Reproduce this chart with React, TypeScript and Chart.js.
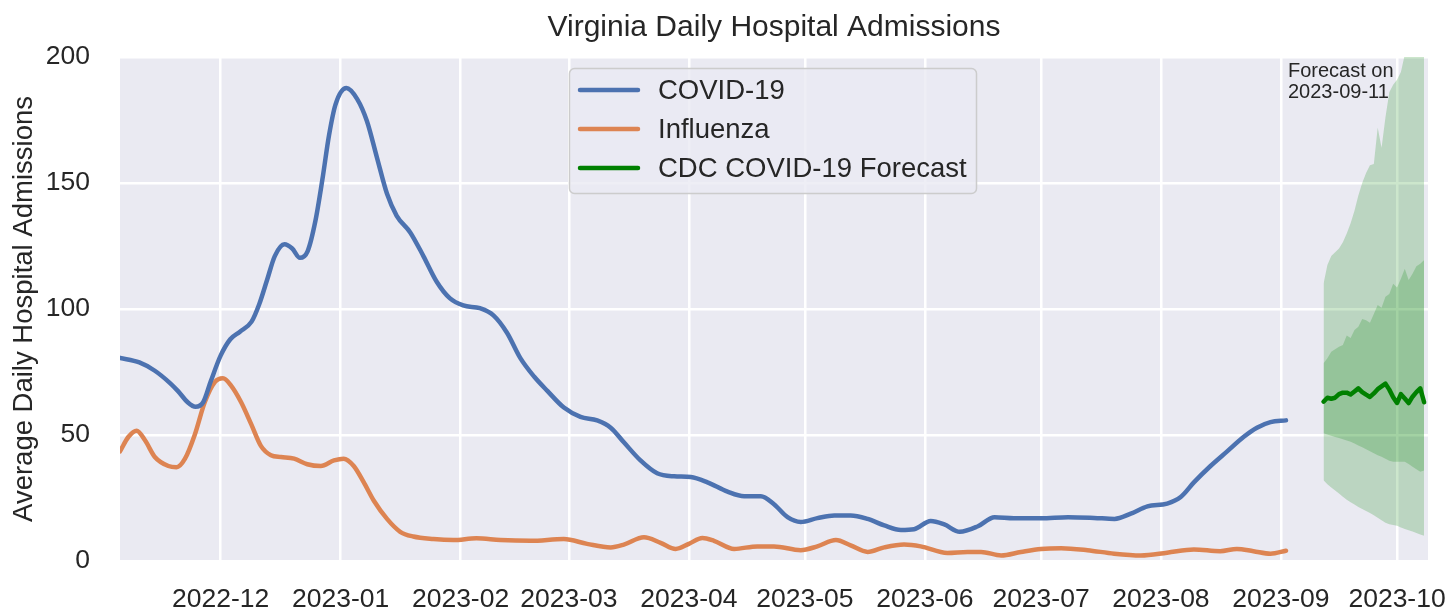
import React, { useEffect, useRef } from "react";
import { Chart, registerables } from "chart.js";

Chart.register(...registerables);

// x values are day offsets from 2022-12-01
const xMinDay = -26; // 2022-11-05
const xMaxDay = 312; // 2023-10-09
const monthTickDays = [0, 31, 62, 90, 121, 151, 182, 212, 243, 274, 304];
const monthTickLabels = [
  "2022-12", "2023-01", "2023-02", "2023-03", "2023-04", "2023-05",
  "2023-06", "2023-07", "2023-08", "2023-09", "2023-10",
];
const yTickValues = [0, 50, 100, 150, 200];

const covidDays = [
  -26, -21, -17, -13, -11, -8.5, -6.5, -4.5, -2.5, 0, 2.5, 5, 8, 10, 12, 14, 16.5, 18.5, 20.5, 22.5,
  24.5, 26.3, 28, 29.7, 32.5, 35.3, 37.8, 40.4, 43, 45.5, 49, 52.4, 55.8, 59.2, 62.7, 67, 70.5, 74,
  77.5, 81, 84.5, 88.7, 93, 97.3, 100.8, 104.2, 108.5, 112.8, 117.2, 121.5, 125.8, 131, 135.3, 139.6,
  143, 146.5, 149.9, 154.2, 158.6, 162.8, 167.2, 171.5, 175.8, 179.2, 183.5, 187, 191, 195.7, 200,
  205, 212, 219, 225.7, 231, 235.2, 239.5, 244.6, 248.1, 251.5, 255.8, 260.1, 264.4, 267.8, 271.3, 275.3,
];
const covidValues = [
  80.6, 78.8, 75.5, 70.5, 67.4, 63, 61.2, 63, 71.5, 81.5, 88, 91, 95, 102, 111.5, 121, 125.7, 124, 120.3, 123,
  135, 151.4, 168.8, 181.2, 187.7, 183.3, 174.6, 160.1, 145.7, 137, 130.4, 121, 110.9, 104.3, 101.4, 100.3, 97.5, 90.6,
  80.4, 73.2, 67.4, 60.9, 57.2, 55.8, 52.9, 47.1, 39.9, 34.8, 33.6, 33.3, 31.2, 27.5, 25.7, 25.7,
  22.5, 17.4, 15.5, 17, 18.1, 18.1, 16.7, 14.1, 12.3, 12.6, 15.9, 14.5, 11.6, 13.8, 17.4,
  17, 17, 17.4, 17.1, 16.7, 18.8, 21.7, 22.8, 25.4, 31.2, 37.7, 43.5, 49.3, 52.9, 55.1, 55.8,
];

const fluDays = [
  -26, -23.8, -21.7, -19.5, -17, -13.5, -11.4, -9.2, -6.7, -4.1, -1.5, 0.6, 2.7, 5.3, 7.9, 10.4, 13, 15.6,
  19, 22.4, 25.9, 29.3, 31.8, 34.4, 37, 39.6, 43, 46.4, 49.8, 55, 60.1, 66.1, 72.3, 80.1, 88.7, 94.7,
  100.8, 104.2, 109.4, 113.7, 117.6, 121, 124.5, 127.5, 132.7, 138.7, 143, 149.9, 154.2, 159, 162.8,
  167.2, 171.5, 176.6, 180.9, 187.8, 193, 196.5, 201.7, 206.8, 212, 217.2, 224, 230.9, 237.8, 244.6,
  251.5, 258.3, 262.6, 266.9, 271.3, 275.3,
];
const fluValues = [
  43.5, 49.3, 51.7, 47.8, 41.3, 37.7, 37.2, 40.6, 50, 63, 71, 72.5, 69.6, 63, 54.3, 45.7, 42, 41.3,
  40.6, 38.4, 37.7, 39.9, 40.6, 37.7, 31.2, 23.9, 16.7, 11.6, 9.7, 8.7, 8.3, 9, 8.3, 8, 8.7, 6.8,
  5.4, 6.5, 9.4, 7.2, 4.8, 6.8, 9.1, 8, 4.8, 5.8, 5.8, 4.3, 5.8, 8.3, 6.2,
  3.6, 5.4, 6.5, 5.8, 3.2, 3.6, 3.6, 2.2, 3.6, 4.8, 5.1, 4.3, 2.9, 2.2, 3.3,
  4.6, 3.9, 4.8, 3.9, 2.9, 4.1,
];

const forecastDays = [
  285, 286, 287, 288, 289, 290, 291, 292, 293, 294, 295, 296, 297, 298,
  299, 300, 301, 302, 303, 304, 305, 306, 307, 308, 309, 310, 311,
];
const forecastMedian = [
  63.2, 64.8, 64.4, 64.8, 66.2, 66.8, 66.8, 66.1, 67.3, 68.5, 67, 66, 65.1, 66.5,
  68.2, 69.3, 70.4, 68, 65, 62.7, 66.2, 64.5, 62.7, 65.2, 67, 68.5, 63,
];
const forecastLower95 = [
  32, 30.5, 29.2, 28, 26.8, 25.5, 24.3, 23.3, 22.4, 21.4, 20.6, 19.8, 19, 18.2,
  17.2, 16.2, 15.2, 14.6, 14.3, 14, 13.3, 12.7, 12.2, 11.7, 11.1, 10.5, 10,
];
const forecastUpper95 = [
  110, 117.5, 121, 122.5, 124, 126.5, 130, 134, 139, 145, 150, 154, 157, 157.5,
  172, 164, 176, 186, 189, 191, 194, 201, 208, 214, 220, 226, 232,
];
const forecastLower50 = [
  50.7, 50.2, 49.7, 49.2, 48.8, 48.3, 47.8, 47.3, 46.6, 45.8, 45.1, 44.3, 43.6, 42.8,
  42, 41.4, 40.6, 39.8, 39.4, 39.4, 39.4, 39.4, 38.5, 37.4, 36.4, 35.4, 35.9,
];
const forecastUpper50 = [
  78.5, 80.5, 83, 84, 85, 85.7, 89.5, 88.5, 91.7, 93, 96, 95.5, 94.5, 98,
  101.6, 100.5, 104.9, 106, 110, 108.5, 112, 116, 111.5, 114, 117, 118, 119.4,
];

const titleText = "Virginia Daily Hospital Admissions";
const yAxisTitle = "Average Daily Hospital Admissions";
const legendLabels = ["COVID-19", "Influenza", "CDC COVID-19 Forecast"];
const forecastNote = ["Forecast on", "2023-09-11"];

const COLOR_COVID = "#4C72B0";
const COLOR_FLU = "#DD8452";
const COLOR_FORECAST = "#008000";
const BAND_FILL = "rgba(0,128,0,0.2)";
const TEXT_COLOR = "#262626";
const FONT = "'Liberation Sans', Arial, sans-serif";

const pts = (xs: number[], ys: number[]) => xs.map((x, i) => ({ x, y: ys[i] }));

export default function App() {
  const canvasRef = useRef<HTMLCanvasElement | null>(null);

  useEffect(() => {
    const canvas = canvasRef.current;
    if (!canvas) return;

    const decorPlugin = {
      id: "decor",
      beforeDraw(chart: any) {
        const { ctx, chartArea } = chart;
        ctx.save();
        ctx.fillStyle = "#ffffff";
        ctx.fillRect(0, 0, chart.width, chart.height);
        ctx.fillStyle = "#EAEAF2";
        ctx.fillRect(chartArea.left, chartArea.top, chartArea.right - chartArea.left, chartArea.bottom - chartArea.top);
        ctx.restore();
      },
      afterDraw(chart: any) {
        const { ctx, chartArea } = chart;
        ctx.save();
        // title
        ctx.fillStyle = TEXT_COLOR;
        ctx.font = `30px ${FONT}`;
        ctx.textAlign = "center";
        ctx.textBaseline = "middle";
        ctx.fillText(titleText, (chartArea.left + chartArea.right) / 2, 28);
        // y title
        ctx.save();
        ctx.translate(24, (chartArea.top + chartArea.bottom) / 2);
        ctx.rotate(-Math.PI / 2);
        ctx.font = `27.5px ${FONT}`;
        ctx.fillText(yAxisTitle, 0, 0);
        ctx.restore();
        // forecast note
        ctx.font = `20px ${FONT}`;
        ctx.textAlign = "left";
        ctx.fillText(forecastNote[0], 1288, 71);
        ctx.fillText(forecastNote[1], 1288, 92);
        // legend
        const bx = 569.5, by = 68.5, bw = 407, bh = 125;
        ctx.beginPath();
        if ((ctx as any).roundRect) (ctx as any).roundRect(bx, by, bw, bh, 5);
        else ctx.rect(bx, by, bw, bh);
        ctx.fillStyle = "rgba(234,234,242,0.8)";
        ctx.fill();
        ctx.strokeStyle = "#CCCCCC";
        ctx.lineWidth = 1.5;
        ctx.stroke();
        const colors = [COLOR_COVID, COLOR_FLU, COLOR_FORECAST];
        const rows = [90, 129, 168];
        ctx.font = `27.5px ${FONT}`;
        ctx.textBaseline = "middle";
        rows.forEach((ry, i) => {
          ctx.beginPath();
          ctx.moveTo(580, ry);
          ctx.lineTo(638, ry);
          ctx.strokeStyle = colors[i];
          ctx.lineWidth = 4.5;
          ctx.lineCap = "round";
          ctx.stroke();
          ctx.fillStyle = TEXT_COLOR;
          ctx.fillText(legendLabels[i], 658, ry + 1);
        });
        ctx.restore();
      },
    };

    const chart = new Chart(canvas, {
      type: "line",
      data: {
        datasets: [
          {
            label: legendLabels[0],
            data: pts(covidDays, covidValues),
            borderColor: COLOR_COVID,
            borderWidth: 4.5,
            borderCapStyle: "round",
            pointRadius: 0,
            cubicInterpolationMode: "monotone",
            fill: false,
            order: 1,
          },
          {
            label: legendLabels[1],
            data: pts(fluDays, fluValues),
            borderColor: COLOR_FLU,
            borderWidth: 4.5,
            borderCapStyle: "round",
            pointRadius: 0,
            cubicInterpolationMode: "monotone",
            fill: false,
            order: 2,
          },
          {
            label: legendLabels[2],
            data: pts(forecastDays, forecastMedian),
            borderColor: COLOR_FORECAST,
            borderWidth: 4.5,
            borderCapStyle: "round",
            borderJoinStyle: "round",
            pointRadius: 0,
            tension: 0,
            fill: false,
            order: 0,
          },
          {
            label: "lower95",
            data: pts(forecastDays, forecastLower95),
            borderWidth: 0,
            borderColor: "rgba(0,0,0,0)",
            pointRadius: 0,
            tension: 0,
            fill: false,
            order: 10,
          },
          {
            label: "upper95",
            data: pts(forecastDays, forecastUpper95),
            borderWidth: 0,
            borderColor: "rgba(0,0,0,0)",
            backgroundColor: BAND_FILL,
            pointRadius: 0,
            tension: 0,
            fill: 3,
            order: 9,
          },
          {
            label: "lower50",
            data: pts(forecastDays, forecastLower50),
            borderWidth: 0,
            borderColor: "rgba(0,0,0,0)",
            pointRadius: 0,
            tension: 0,
            fill: false,
            order: 8,
          },
          {
            label: "upper50",
            data: pts(forecastDays, forecastUpper50),
            borderWidth: 0,
            borderColor: "rgba(0,0,0,0)",
            backgroundColor: BAND_FILL,
            pointRadius: 0,
            tension: 0,
            fill: 5,
            order: 7,
          },
        ],
      },
      options: {
        animation: false,
        responsive: false,
        devicePixelRatio: 1,
        layout: { padding: { top: 57, right: 28, left: 0, bottom: 0 } },
        plugins: {
          legend: { display: false },
          title: { display: false },
          tooltip: { enabled: false },
        },
        scales: {
          x: {
            type: "linear",
            min: xMinDay,
            max: xMaxDay,
            afterBuildTicks(scale: any) {
              scale.ticks = monthTickDays.map((v) => ({ value: v }));
            },
            afterFit(scale: any) {
              scale.height = 51;
              scale.paddingLeft = 0;
              scale.paddingRight = 0;
            },
            ticks: {
              autoSkip: false,
              maxRotation: 0,
              minRotation: 0,
              padding: 23,
              color: TEXT_COLOR,
              font: { family: FONT, size: 26.5 },
              callback: (value: any) => {
                const i = monthTickDays.indexOf(Number(value));
                return i >= 0 ? monthTickLabels[i] : "";
              },
            },
            grid: { color: "#ffffff", lineWidth: 2.5, drawTicks: false },
            border: { display: false },
          },
          y: {
            type: "linear",
            min: 0,
            max: 200,
            afterBuildTicks(scale: any) {
              scale.ticks = yTickValues.map((v) => ({ value: v }));
            },
            afterFit(scale: any) {
              scale.width = 120;
              scale.paddingTop = 0;
              scale.paddingBottom = 0;
            },
            ticks: {
              padding: 30,
              color: TEXT_COLOR,
              font: { family: FONT, size: 26.5 },
            },
            grid: { color: "#ffffff", lineWidth: 2.5, drawTicks: false },
            border: { display: false },
          },
        },
      },
      plugins: [decorPlugin],
    } as any);

    return () => chart.destroy();
  }, []);

  return (
    <div style={{ position: "absolute", left: 0, top: 0, width: 1456, height: 612, background: "#fff" }}>
      <canvas ref={canvasRef} width={1456} height={612} style={{ display: "block" }} />
    </div>
  );
}
